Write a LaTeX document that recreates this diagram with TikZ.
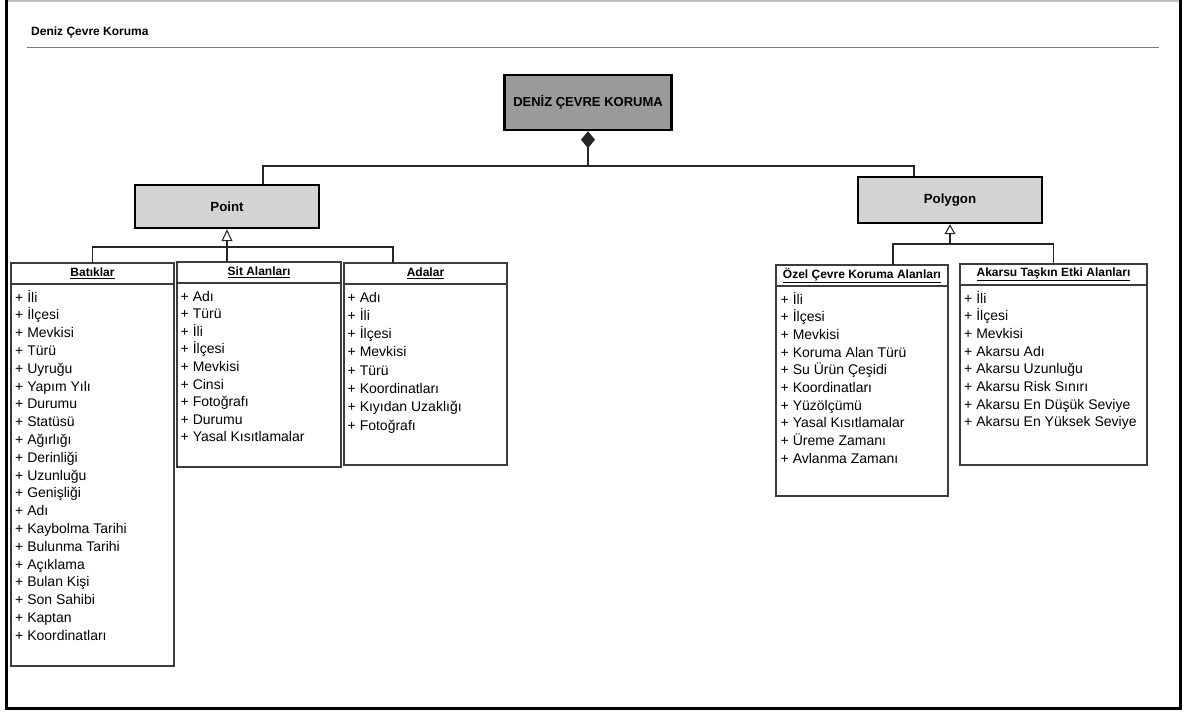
\documentclass[tikz,border=0pt]{standalone}
\usepackage{fontspec}
\setmainfont{Liberation Sans}
\usetikzlibrary{arrows.meta, positioning}

\definecolor{rootgray}{HTML}{9A9A9A}
\definecolor{basegray}{HTML}{D3D3D3}
\definecolor{edgegray}{HTML}{3C3C3C}
\definecolor{rulegray}{HTML}{7A7A7A}

\begin{document}
\begin{tikzpicture}[x=1pt, y=-1pt,
    link/.style={draw=black!85, line width=1.1pt},
    rootbox/.style={draw=black, line width=2.4pt, fill=rootgray, minimum width=167pt, minimum height=55pt, inner sep=0pt, font=\fontsize{13}{15}\selectfont\bfseries},
    basebox/.style={draw=black, line width=2.4pt, fill=basegray, minimum width=184pt, inner sep=0pt, font=\fontsize{13.3}{15}\selectfont\bfseries},
    classhead/.style={draw=edgegray, line width=1.2pt, minimum height=21pt, inner sep=0pt, outer sep=0pt, anchor=north west, font=\fontsize{12}{14}\selectfont\bfseries},
    classbody/.style={draw=edgegray, line width=1.2pt, inner sep=0pt, outer sep=0pt},
    attr/.style={anchor=base west, inner sep=0pt, font=\fontsize{14}{16}\selectfont}
]
    \useasboundingbox (0,0) rectangle (1187,713);

    % Frame
    \draw[black!25, line width=1.5pt] (5,0.75) -- (1182,0.75);
    \draw[line width=3pt] (6.5,0) -- (6.5,708.5) -- (1180.5,708.5) -- (1180.5,0);

    % Title
    \node[anchor=west, inner sep=0pt, font=\fontsize{12}{14}\selectfont\bfseries] (title) at (31,32) {Deniz Çevre Koruma};
    \draw[rulegray, line width=1.6pt] (27,47.5) -- (1159,47.5);

    % Root and base classes
    \node[rootbox] (deniz) at (588,102.5) {DENİZ ÇEVRE KORUMA};
    \node[basebox, minimum height=43pt] (point) at (227,206.5) {Point};
    \node[basebox, minimum height=46pt] (polygon) at (950,200) {Polygon};

    % Composition
    \coordinate (hub) at (deniz.south |- 0,166);
    \draw[link, {Diamond[length=17pt, width=14pt]}-] (deniz.south) -- (hub);
    \draw[link] ([xshift=36pt]point.north) |- (hub) -| ([xshift=-36pt]polygon.north);

    % Point subclasses
    \node[classhead, minimum width=163pt] (batiklar) at (11,263) {\underline{Batıklar}};
    \node[classbody, minimum width=163pt, minimum height=382pt, below=0pt of batiklar] (batiklarbody) {};
    \node[classhead, minimum width=164pt] (sit) at (177,262) {\underline{Sit Alanları}};
    \node[classbody, minimum width=164pt, minimum height=184pt, below=0pt of sit] (sitbody) {};
    \node[classhead, minimum width=163pt] (adalar) at (344,263) {\underline{Adalar}};
    \node[classbody, minimum width=163pt, minimum height=181pt, below=0pt of adalar] (adalarbody) {};

    \foreach \a [count=\n from 0] in {İli, İlçesi, Mevkisi, Türü, Uyruğu, Yapım Yılı, Durumu, Statüsü, Ağırlığı, Derinliği, Uzunluğu, Genişliği, Adı, Kaybolma Tarihi, Bulunma Tarihi, Açıklama, Bulan Kişi, Son Sahibi, Kaptan, Koordinatları}
        \node[attr] (bat-\n) at ([shift={(4,18+17.8*\n)}]batiklar.south west) {+ \a};
    \foreach \a [count=\n from 0] in {Adı, Türü, İli, İlçesi, Mevkisi, Cinsi, Fotoğrafı, Durumu, Yasal Kısıtlamalar}
        \node[attr] (sit-\n) at ([shift={(3.5,18+17.6*\n)}]sit.south west) {+ \a};
    \foreach \a [count=\n from 0] in {Adı, İli, İlçesi, Mevkisi, Türü, Koordinatları, Kıyıdan Uzaklığı, Fotoğrafı}
        \node[attr] (ada-\n) at ([shift={(3.5,18+18.3*\n)}]adalar.south west) {+ \a};

    % Point generalization
    \coordinate (pbar) at (point.south |- 0,247);
    \draw[link, {Triangle[open, length=12pt, width=11pt]}-] (point.south) -- (pbar);
    \draw[link] (batiklar.north) |- (pbar) -| ([xshift=-32.5pt]adalar.north);
    \draw[link] (pbar) -- (pbar |- sit.north);

    % Polygon subclasses
    \node[classhead, minimum width=172pt] (ozel) at (776,265) {\underline{Özel Çevre Koruma Alanları}};
    \node[classbody, minimum width=172pt, minimum height=210pt, below=0pt of ozel] (ozelbody) {};
    \node[classhead, minimum width=187pt] (akarsu) at (960,264) {\underline{Akarsu Taşkın Etki Alanları}};
    \node[classbody, minimum width=187pt, minimum height=180pt, below=0pt of akarsu] (akarsubody) {};

    \foreach \a [count=\n from 0] in {İli, İlçesi, Mevkisi, Koruma Alan Türü, Su Ürün Çeşidi, Koordinatları, Yüzölçümü, Yasal Kısıtlamalar, Üreme Zamanı, Avlanma Zamanı}
        \node[attr] (oz-\n) at ([shift={(4.5,18+17.7*\n)}]ozel.south west) {+ \a};
    \foreach \a [count=\n from 0] in {İli, İlçesi, Mevkisi, Akarsu Adı, Akarsu Uzunluğu, Akarsu Risk Sınırı, Akarsu En Düşük Seviye, Akarsu En Yüksek Seviye}
        \node[attr] (ak-\n) at ([shift={(4,18+17.7*\n)}]akarsu.south west) {+ \a};

    % Polygon generalization
    \coordinate (gbar) at (polygon.south |- 0,244);
    \draw[link, {Triangle[open, length=10pt, width=11pt]}-] (polygon.south) -- (gbar);
    \draw[link] ([xshift=31pt]ozel.north) |- (gbar) -| (akarsu.north);
\end{tikzpicture}
\end{document}
